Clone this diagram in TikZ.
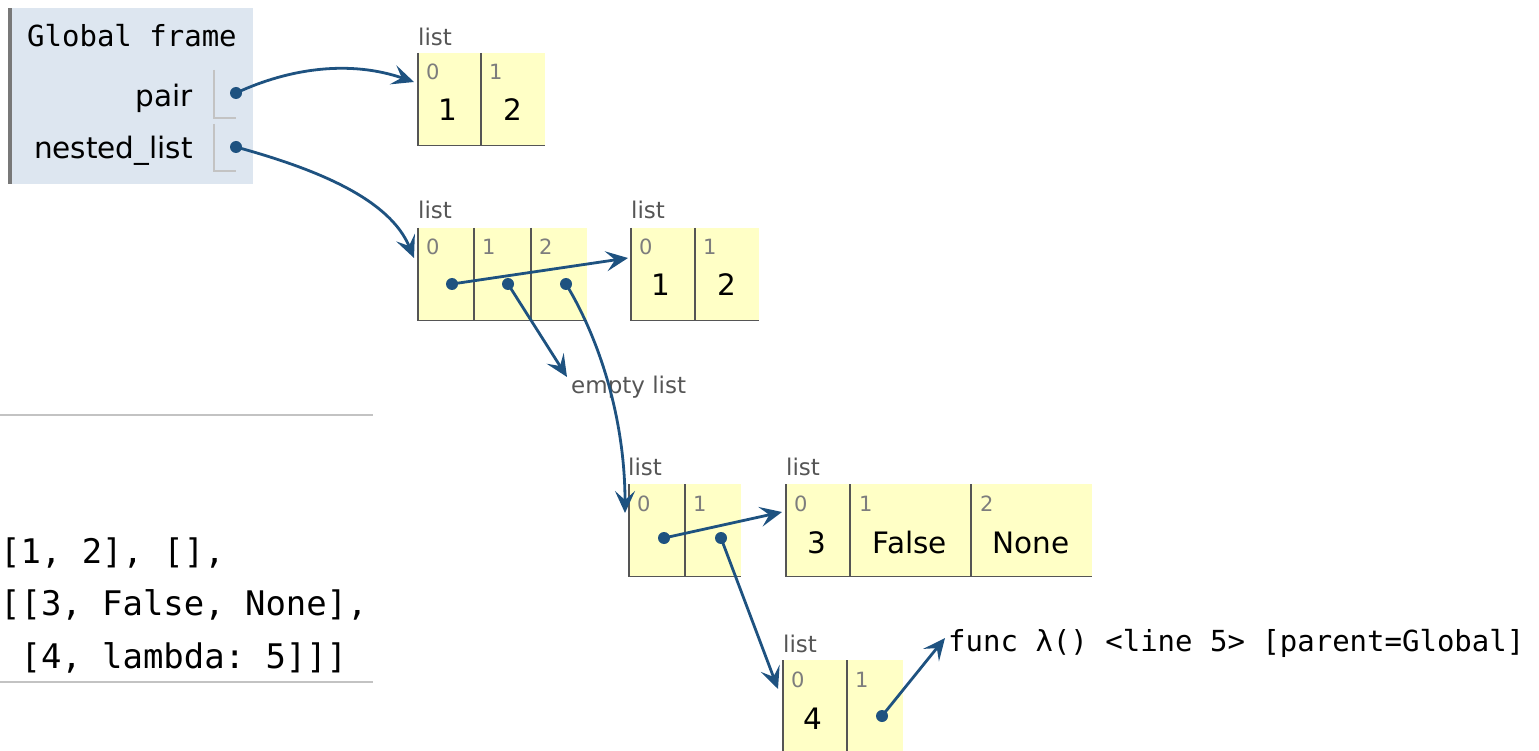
\documentclass[tikz,border=0pt]{standalone}
\usepackage{fontspec}
\setmainfont{DejaVu Sans}
\setmonofont{DejaVu Sans Mono}
\usetikzlibrary{arrows.meta}
\definecolor{arrowc}{RGB}{30,82,128}
\definecolor{heapc}{RGB}{255,255,198}
\definecolor{framec}{RGB}{221,230,240}
\definecolor{barc}{RGB}{120,120,120}
\definecolor{labelc}{RGB}{85,85,85}
\definecolor{idxc}{RGB}{125,125,125}
\definecolor{cellc}{RGB}{85,85,85}
\definecolor{sepc}{RGB}{195,195,195}
\begin{document}
\begin{tikzpicture}[x=1pt,y=-1pt,
  ptr/.style={draw=arrowc, line width=2.8pt, -{Stealth[length=22pt,width=20pt,inset=9pt]}},
  dot/.style={circle, fill=arrowc, inner sep=0pt, minimum size=12pt},
  lbl/.style={font=\fontsize{23}{23}\selectfont, text=labelc, anchor=base west, inner sep=0pt},
  idx/.style={font=\fontsize{21}{21}\selectfont, text=idxc, anchor=base west, inner sep=0pt},
  val/.style={font=\fontsize{29.5}{29.5}\selectfont, anchor=base, inner sep=0pt},
  mono/.style={font=\fontsize{29}{29}\selectfont\ttfamily, anchor=base west, inner sep=0pt},
  code/.style={font=\fontsize{33.9}{33.9}\selectfont\ttfamily, anchor=base west, inner sep=0pt},
  listbox/.style={fill=heapc, inner sep=0pt, anchor=north west},
  cellline/.style={draw=cellc, line width=1.2pt},
  sepline/.style={draw=sepc, line width=1.5pt}]
\useasboundingbox (0,0) rectangle (1539,751);

% ---------- left panel ----------
\draw[sepline] (0,415) -- (373,415);
\draw[sepline] (0,682) -- (373,682);
\node[code] (c1) at (0,563) {[1, 2], [],};
\node[code] (c2) at (0,615) {[[3, False, None],};
\node[code] (c3) at (0,668) {\ [4, lambda: 5]]]};

% ---------- global frame ----------
\node[fill=framec, inner sep=0pt, minimum width=245pt, minimum height=176pt, anchor=north west] (frame) at (8,8) {};
\fill[barc] (frame.north west) rectangle ++(4,176);
\node[mono] (gf) at (27,47) {Global frame};
\node[val, anchor=base east] (vpair) at (193,107) {pair};
\node[val, anchor=base east] (vnest) at (193,159) {nested\_list};
\draw[sepline] (214,70) -- (214,118) -- (236,118);
\draw[sepline] (214,124) -- (214,171) -- (236,171);
\node[dot] (dpair) at (236,93) {};
\node[dot] (dnest) at (236,147) {};

% ---------- list A: [1,2] (pair) ----------
\node[lbl] (lA) at (418,46) {list};
\node[listbox, minimum width=127pt, minimum height=92pt] (A) at (418,53) {};
\draw[cellline] (A.north west) -- (A.south west) -- (A.south east);
\draw[cellline] (481,53) -- (481,145);
\node[idx] at (426,80) {0};
\node[idx] at (489,80) {1};
\node[val] at (448,121) {1};
\node[val] at (513,121) {2};

% ---------- list B: nested_list ----------
\node[lbl] (lB) at (418,219) {list};
\node[listbox, minimum width=169pt, minimum height=92pt] (B) at (418,228) {};
\draw[cellline] (B.north west) -- (B.south west) -- (B.south east);
\draw[cellline] (474,228) -- (474,320);
\draw[cellline] (531,228) -- (531,320);
\node[idx] at (426,255) {0};
\node[idx] at (482,255) {1};
\node[idx] at (539,255) {2};
\node[dot] (dB0) at (452,284) {};
\node[dot] (dB1) at (508,284) {};
\node[dot] (dB2) at (566,284) {};

% ---------- list C: [1,2] ----------
\node[lbl] (lC) at (631,219) {list};
\node[listbox, minimum width=128pt, minimum height=92pt] (C) at (631,228) {};
\draw[cellline] (C.north west) -- (C.south west) -- (C.south east);
\draw[cellline] (695,228) -- (695,320);
\node[idx] at (639,255) {0};
\node[idx] at (703,255) {1};
\node[val] at (661,296) {1};
\node[val] at (727,296) {2};

% ---------- empty list ----------
\node[lbl] (empty) at (571,393) {empty list};

% ---------- list D ----------
\node[lbl] (lD) at (628,475) {list};
\node[listbox, minimum width=112pt, minimum height=92pt] (D) at (629,484) {};
\draw[cellline] (D.north west) -- (D.south west) -- (D.south east);
\draw[cellline] (685,484) -- (685,576);
\node[idx] at (637,511) {0};
\node[idx] at (693,511) {1};
\node[dot] (dD0) at (664,538) {};
\node[dot] (dD1) at (721,538) {};

% ---------- list E: [3, False, None] ----------
\node[lbl] (lE) at (786,475) {list};
\node[listbox, minimum width=306pt, minimum height=92pt] (E) at (786,484) {};
\draw[cellline] (E.north west) -- (E.south west) -- (E.south east);
\draw[cellline] (850,484) -- (850,576);
\draw[cellline] (971,484) -- (971,576);
\node[idx] at (794,511) {0};
\node[idx] at (859,511) {1};
\node[idx] at (980,511) {2};
\node[val] at (817,553) {3};
\node[val] at (910,553) {False};
\node[val] at (1031,553) {None};

% ---------- list F: [4, func] ----------
\node[lbl] (lF) at (783,652) {list};
\node[listbox, minimum width=120pt, minimum height=92pt] (F) at (783,660) {};
\draw[cellline] (F.north west) -- (F.south west);
\draw[cellline] (847,660) -- (847,752);
\node[idx] at (791,687) {0};
\node[idx] at (855,687) {1};
\node[val] at (813,729) {4};
\node[dot] (dF1) at (882,716) {};

% ---------- function ----------
\node[mono] (func) at (948,651) {func λ() <line 5> [parent=Global]};

% ---------- pointers ----------
\coordinate (Ain) at (414,82);
\coordinate (Bin) at (414,258);
\coordinate (Cin) at (628,258);
\coordinate (Din) at (625,513);
\coordinate (Ein) at (782,512);
\coordinate (Fin) at (778,689);
\coordinate (emptyin) at (567,377);
\coordinate (funcin) at (945,638);
\draw[ptr] (dpair.center) .. controls (290,68) and (350,60) .. (Ain);
\draw[ptr] (dnest.center) .. controls (320,170) and (390,200) .. (Bin);
\draw[ptr] (dB0.center) -- (Cin);
\draw[ptr] (dB1.center) -- (emptyin);
\draw[ptr] (dB2.center) .. controls (600,340) and (625,420) .. (Din);
\draw[ptr] (dD0.center) -- (Ein);
\draw[ptr] (dD1.center) -- (Fin);
\draw[ptr] (dF1.center) -- (funcin);
\end{tikzpicture}
\end{document}
